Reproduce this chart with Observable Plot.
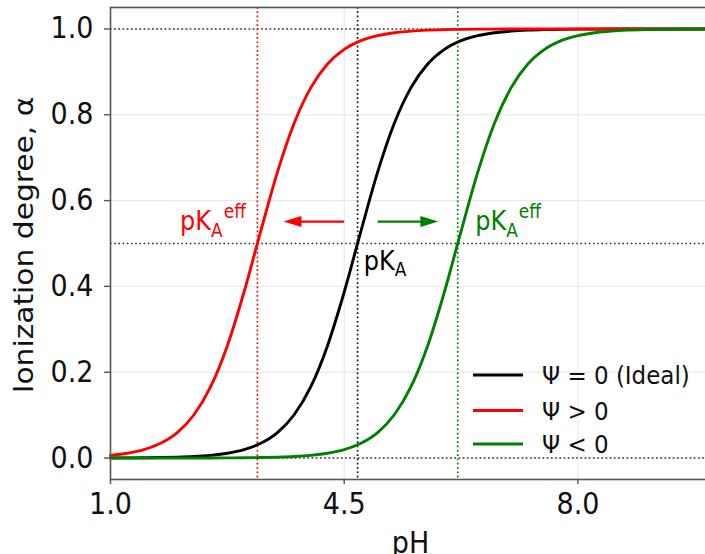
<!DOCTYPE html>
<html><head><meta charset="utf-8">
<script src="https://cdn.jsdelivr.net/npm/d3@7"></script>
<script src="https://cdn.jsdelivr.net/npm/@observablehq/plot@0.6"></script>
<style>
html,body{margin:0;padding:0;background:#fff;overflow:hidden;}
#chart svg{display:block;}
</style></head><body><div id="chart"></div>
<script>
// ---- data ----
const pH = [1.0,1.25,1.5,1.75,2.0,2.25,2.5,2.75,3.0,3.25,3.5,3.75,4.0,4.25,4.5,4.75,5.0,5.25,5.5,5.75,6.0,6.25,6.5,6.75,7.0,7.25,7.5,7.75,8.0,8.25,8.5,8.75,9.0,9.25,9.5,9.75,10.0];
const alphaIdeal = [0.0002,0.0004,0.0006,0.0011,0.0020,0.0035,0.0063,0.0111,0.0196,0.0343,0.0594,0.1009,0.1663,0.2619,0.3869,0.5288,0.6662,0.7801,0.8632,0.9182,0.9523,0.9726,0.9844,0.9912,0.9950,0.9972,0.9984,0.9991,0.9995,0.9997,0.9998,0.9999,1,1,1,1,1];
const alphaPos = [0.0063,0.0111,0.0196,0.0343,0.0594,0.1009,0.1663,0.2619,0.3869,0.5288,0.6662,0.7801,0.8632,0.9182,0.9523,0.9726,0.9844,0.9912,0.9950,0.9972,0.9984,0.9991,0.9995,0.9997,0.9998,0.9999,1,1,1,1,1,1,1,1,1,1,1];
const alphaNeg = [0,0,0,0,0.0001,0.0001,0.0002,0.0004,0.0006,0.0011,0.0020,0.0035,0.0063,0.0111,0.0196,0.0343,0.0594,0.1009,0.1663,0.2619,0.3869,0.5288,0.6662,0.7801,0.8632,0.9182,0.9523,0.9726,0.9844,0.9912,0.9950,0.9972,0.9984,0.9991,0.9995,0.9997,0.9998];
const seriesNames = ["Ψ = 0 (Ideal)", "Ψ > 0", "Ψ < 0"];
const seriesColors = ["#000000", "#ff0000", "#008000"];
const pKaValues = [4.7, 3.2, 6.2];
const pKaLineColors = ["#111111", "#ff0000", "#008000"];
const refAlpha = [0, 0.5, 1.0];
const xTicks = [1.0, 4.5, 8.0];
const yTicks = [0, 0.2, 0.4, 0.6, 0.8, 1.0];
const arrowFrom = [4.50, 5.00];
const arrowTo = [3.59, 5.91];
const arrowAlpha = [0.551, 0.551];
const arrowColors = ["#ff0000", "#008000"];
const labelX = [2.05, 6.47, 4.80];
const labelY = [0.530, 0.530, 0.438];
const labelMain = ["pK", "pK", "pK"];
const labelSub = ["A", "A", "A"];
const labelSup = ["eff", "eff", ""];
const labelColors = ["#ff0000", "#008000", "#000000"];
const xLabel = "pH";
const yLabel = "Ionization degree, α";

// ---- layout ----
const W = 705, H = 554, mL = 110, mR = -6, mT = 7, mB = 75;
const xDomain = [1, 10], yDomain = [-0.05, 1.05];
const pxPerUnit = (W - mL - mR) / (xDomain[1] - xDomain[0]);
const headLen = 18, headHalf = 5.5;
const FONT = "DejaVu Sans";

const seriesValues = [alphaIdeal, alphaPos, alphaNeg];
const rows = seriesNames.flatMap((s, i) => pH.map((p, j) => ({pH: p, alpha: seriesValues[i][j], series: s, color: seriesColors[i]})));
const pKaRows = pKaValues.map((v, i) => ({pKa: v, color: pKaLineColors[i]}));
const arrows = arrowFrom.map((f, i) => {
  const dir = Math.sign(arrowTo[i] - f);
  return {from: f, to: arrowTo[i], shaftEnd: arrowTo[i] - dir * (headLen - 2) / pxPerUnit, a: arrowAlpha[i], color: arrowColors[i], dir};
});
const headRight = {draw(ctx) { ctx.moveTo(0, 0); ctx.lineTo(-headLen, -headHalf); ctx.lineTo(-headLen, headHalf); ctx.closePath(); }};
const headLeft = {draw(ctx) { ctx.moveTo(0, 0); ctx.lineTo(headLen, -headHalf); ctx.lineTo(headLen, headHalf); ctx.closePath(); }};

const plot = Plot.plot({
  width: W, height: H,
  marginLeft: mL, marginRight: mR, marginTop: mT, marginBottom: mB,
  x: {domain: xDomain},
  y: {domain: yDomain},
  color: {type: "identity"},
  style: {fontFamily: FONT, background: "white", color: "#111"},
  marks: [
    Plot.gridX(xTicks, {stroke: "#e6e6e6", strokeOpacity: 1, strokeWidth: 1}),
    Plot.gridY(yTicks, {stroke: "#e6e6e6", strokeOpacity: 1, strokeWidth: 1}),
    Plot.ruleY(refAlpha, {stroke: "#333", strokeWidth: 1.6, strokeDasharray: "1.6,2.6"}),
    Plot.ruleX(pKaRows, {x: "pKa", stroke: "color", strokeWidth: 1.7, strokeDasharray: "1.7,2.6"}),
    Plot.line(rows, {x: "pH", y: "alpha", z: "series", stroke: "color", strokeWidth: 2.9, curve: "monotone-x"}),
    Plot.link(arrows, {x1: "from", y1: "a", x2: "shaftEnd", y2: "a", stroke: "color", strokeWidth: 2.3}),
    Plot.dot(arrows.filter(d => d.dir < 0), {x: "to", y: "a", fill: "color", stroke: null, symbol: headLeft, r: 5}),
    Plot.dot(arrows.filter(d => d.dir > 0), {x: "to", y: "a", fill: "color", stroke: null, symbol: headRight, r: 5}),
    Plot.frame({stroke: "#555", strokeWidth: 1.6}),
    Plot.axisX(xTicks, {tickFormat: d => d.toFixed(1), tickSize: 5, tickPadding: 8, fontSize: 27, label: null, stroke: "#555", strokeWidth: 1.4, fill: "#111"}),
    Plot.axisY(yTicks, {tickFormat: d => d.toFixed(1), tickSize: 6, tickPadding: 11, fontSize: 27, label: null, stroke: "#555", strokeWidth: 1.4, fill: "#111"})
  ]
});

// glyphs in the reference are stretched vertically (~1.1)
plot.querySelectorAll("text").forEach(t => {
  const tr = t.getAttribute("transform") || "";
  t.setAttribute("transform", tr + " scale(1,1.1)");
});

const sx = plot.scale("x").apply, sy = plot.scale("y").apply;
const svg = d3.select(plot);
const g = svg.append("g").attr("font-family", FONT).attr("text-anchor", "start");

// curve annotations
labelMain.forEach((m, i) => {
  const t = g.append("text")
    .attr("transform", `translate(${sx(labelX[i])},${sy(labelY[i])}) scale(1,1.1)`)
    .attr("text-anchor", "start")
    .attr("fill", labelColors[i]).attr("font-size", 24);
  t.append("tspan").text(m);
  t.append("tspan").attr("font-size", 17).attr("dy", 6).text(labelSub[i]);
  if (labelSup[i]) t.append("tspan").attr("font-size", 17).attr("dy", -17).attr("dx", 1).text(labelSup[i]);
});

// axis titles
g.append("text")
  .attr("transform", `translate(${(mL + W - mR) / 2},553) scale(1,1.1)`)
  .attr("text-anchor", "middle").attr("font-size", 27).attr("fill", "#111").text(xLabel);
g.append("text")
  .attr("transform", `translate(33,${(mT + H - mB) / 2 + 2}) rotate(-90) scale(1.1,1)`)
  .attr("text-anchor", "middle").attr("font-size", 27).attr("fill", "#111").text(yLabel);

// legend
const legendRowsY = [375, 410.5, 444];
const lg = g.append("g");
seriesNames.forEach((s, i) => {
  lg.append("line").attr("x1", 473).attr("x2", 523).attr("y1", legendRowsY[i]).attr("y2", legendRowsY[i])
    .attr("stroke", seriesColors[i]).attr("stroke-width", 2.8);
  lg.append("text").attr("transform", `translate(542,${legendRowsY[i]}) scale(1,1.1)`)
    .attr("text-anchor", "start")
    .attr("dy", "0.36em").attr("font-size", 23).attr("fill", "#111")
    .style("white-space", "pre").text(s);
});

document.getElementById("chart").appendChild(plot);
</script></body></html>
